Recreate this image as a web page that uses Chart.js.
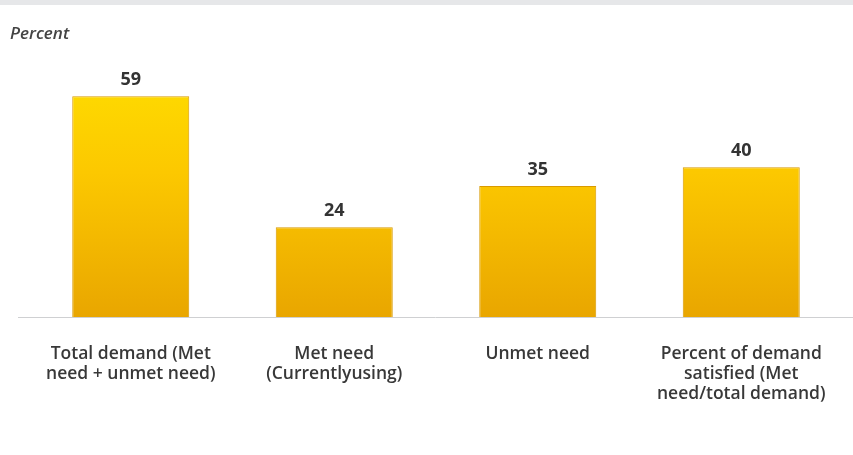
<!DOCTYPE html>
<html>
<head>
<meta charset="utf-8">
<script src="https://cdn.jsdelivr.net/npm/chart.js@4.4.1/dist/chart.umd.min.js"></script>
<style>
  html, body { margin: 0; padding: 0; background: #fff; }
  #wrap { position: relative; width: 853px; height: 455px; }
  #band { position: absolute; left: 0; top: 0; width: 853px; height: 5px; background: #e6e7e9; }
  #unit { position: absolute; left: 10px; top: 21px; font: italic 600 17px "Open Sans", sans-serif; color: #444; }
  canvas { position: absolute; left: 0; top: 0; }
</style>
</head>
<body>
<div id="wrap">
  <canvas id="chart" width="853" height="455"></canvas>
  <div id="band"></div>
  <div id="unit">Percent</div>
</div>
<script>
  "use strict";

  // Data
  var categories = [
    ["Total demand (Met", "need + unmet need)"],
    ["Met need", "(Currentlyusing)"],
    ["Unmet need"],
    ["Percent of demand", "satisfied (Met", "need/total demand)"]
  ];
  var values = [59, 24, 35, 40];

  // Bar gradient
  var barFill = function (context) {
    var area = context.chart.chartArea;
    if (!area) return "#f5c000";
    var g = context.chart.ctx.createLinearGradient(0, area.top, 0, area.bottom);
    g.addColorStop(0, "#ffe000");
    g.addColorStop(0.45, "#fcc800");
    g.addColorStop(1, "#e9a600");
    return g;
  };

  // Value labels + baseline
  var extras = {
    id: "extras",
    afterDatasetsDraw: function (chart) {
      var ctx = chart.ctx;
      var yScale = chart.scales.y;
      var base = yScale.getPixelForValue(0);
      ctx.save();
      ctx.strokeStyle = "#cfd0d2";
      ctx.lineWidth = 1;
      ctx.beginPath();
      ctx.moveTo(18, base + 0.5);
      ctx.lineTo(853, base + 0.5);
      ctx.stroke();

      ctx.fillStyle = "#333";
      ctx.font = "bold 18px 'Open Sans', sans-serif";
      ctx.textAlign = "center";
      ctx.textBaseline = "alphabetic";
      chart.getDatasetMeta(0).data.forEach(function (bar, i) {
        ctx.fillText(values[i], bar.x, bar.y - 11);
      });
      ctx.restore();
    }
  };

  new Chart(document.getElementById("chart").getContext("2d"), {
    type: "bar",
    data: {
      labels: categories,
      datasets: [
        {
          data: values,
          backgroundColor: barFill,
          borderColor: "#d99a00",
          borderWidth: 1,
          barPercentage: 0.575,
          categoryPercentage: 1,
        },
      ],
    },
    options: {
      responsive: false,
      animation: false,
      layout: { padding: { left: 29, right: 10, top: 55, bottom: 0 } },
      plugins: {
        legend: { display: false },
        tooltip: { enabled: false },
      },
      scales: {
        x: {
          grid: { display: false },
          border: { display: false },
          ticks: {
            color: "#383838",
            font: { family: "'Open Sans', sans-serif", size: 17.5, weight: "600", lineHeight: "20px" },
            padding: 19,
            maxRotation: 0,
            autoSkip: false,
          },
          afterFit: function (scale) {
            scale.height = 138;
          },
        },
        y: {
          display: false,
          min: 0,
          max: 70,
        },
      },
    },
    plugins: [extras],
  });
</script>
</body>
</html>
